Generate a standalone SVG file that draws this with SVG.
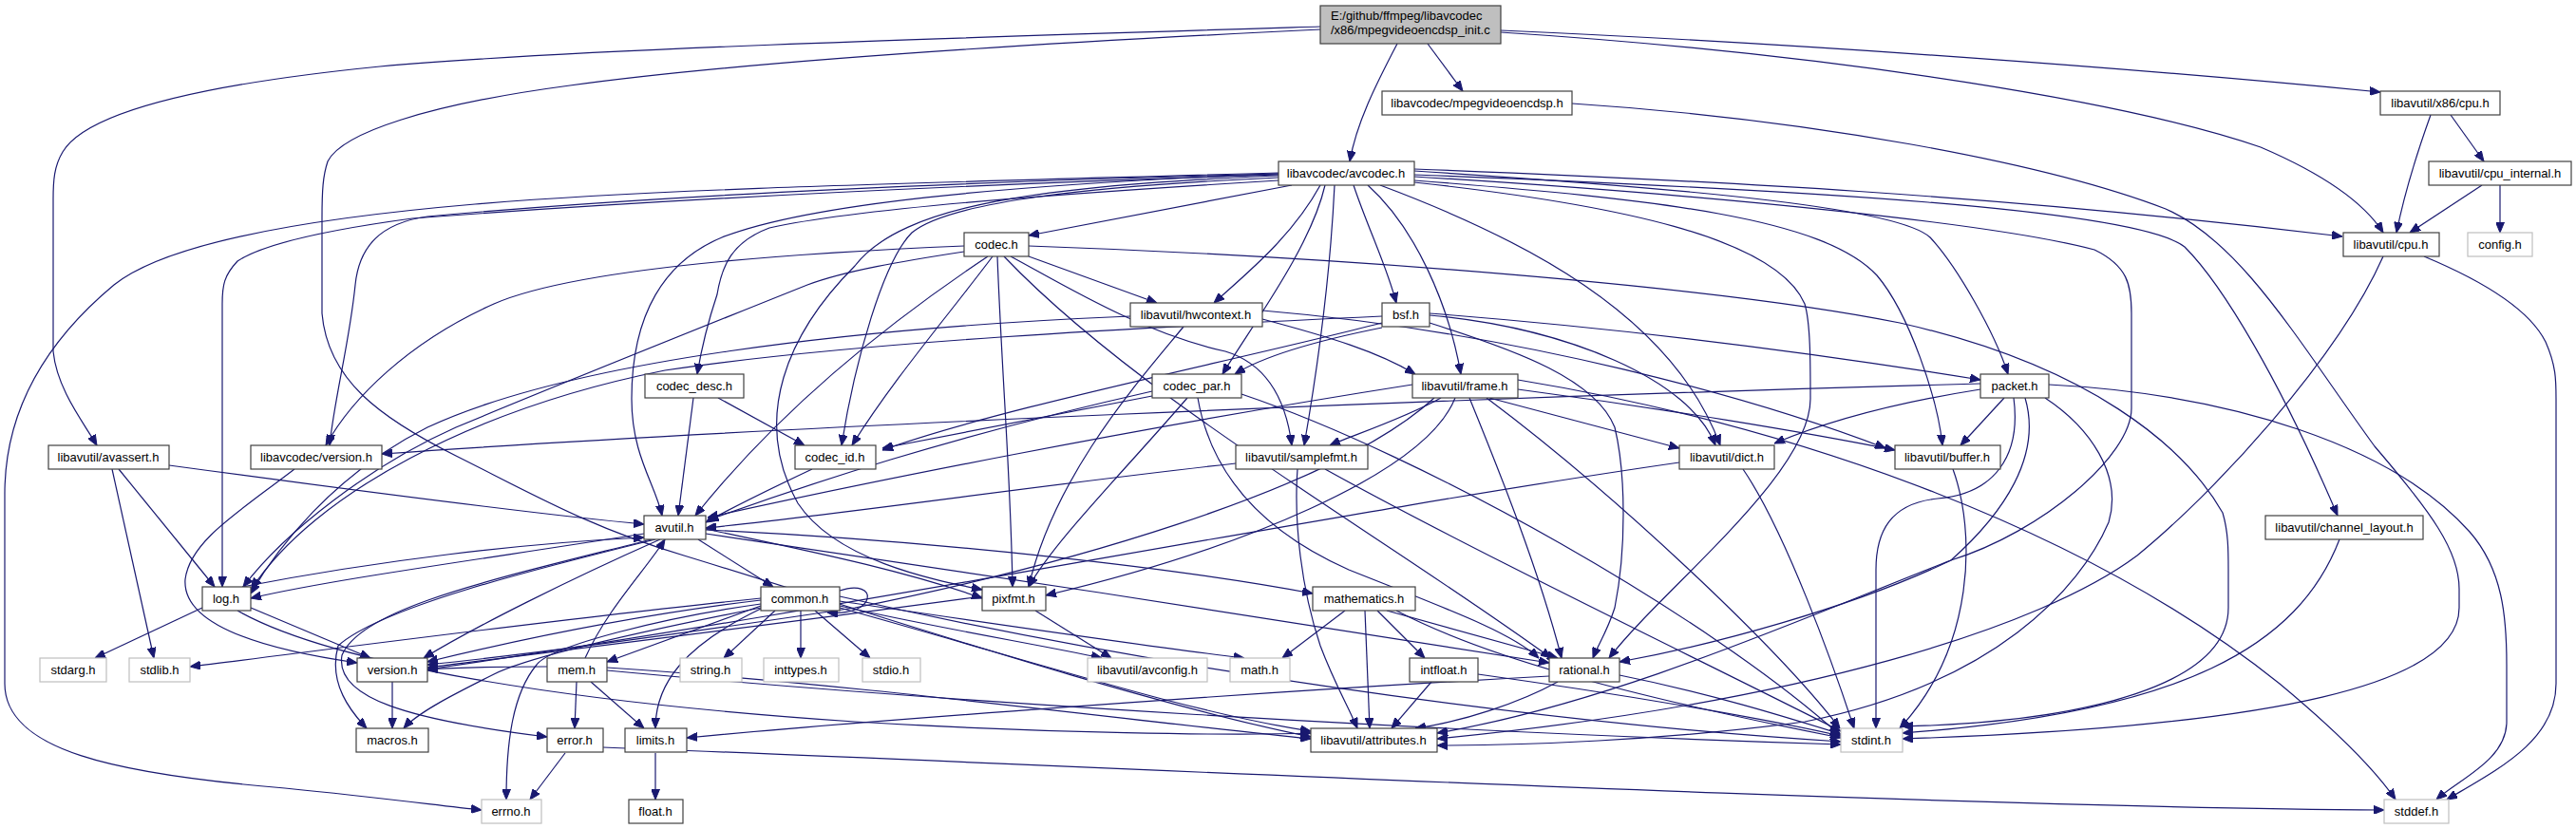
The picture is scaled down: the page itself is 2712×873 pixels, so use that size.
<svg xmlns="http://www.w3.org/2000/svg" width="2712" height="873" viewBox="0 0 2712 873">
<style>
.n rect{fill:#fff;stroke:#404040;stroke-width:1.2}
.s rect{fill:#fff;stroke:#bfbfbf;stroke-width:1.2}
.m rect{fill:#bfbfbf;stroke:#404040;stroke-width:1.2}
text{font-family:"Liberation Sans",Arial,sans-serif;font-size:13px;fill:#000;text-anchor:middle}
.e path{fill:none;stroke:#191970;stroke-width:1.2;marker-end:url(#a)}
</style>
<defs>
<marker id="a" markerUnits="userSpaceOnUse" markerWidth="11" markerHeight="9" refX="11" refY="4.5" orient="auto"><path d="M0,0 L11,4.5 L0,9 z" fill="#191970" stroke="#191970" stroke-width="1"/></marker>
</defs>
<rect width="2712" height="873" fill="#fff"/>
<g class="e" id="edges">
<path d="M1503,46 L1540,96"/>
<path d="M1471,46 C1448,90 1428,130 1421,170"/>
<path d="M1580,32 C1900,46 2250,72 2506,97"/>
<path d="M1580,34 C1950,58 2250,110 2380,155 C2450,185 2490,215 2509,245"/>
<path d="M1390,28 C1000,40 600,52 400,70 C200,90 90,120 66,160 C57,175 56,190 56,210 L56,370 C60,410 88,445 102,469"/>
<path d="M1390,31 C1100,45 780,65 600,90 C450,110 360,140 345,170 C340,185 339,200 339,230 L339,330 C345,400 400,440 480,480 C560,520 620,555 720,585 C900,640 1200,740 1380,776"/>
<path d="M1655,109 C1900,125 2150,170 2280,220 C2360,255 2420,360 2500,470 C2560,540 2589,580 2589,620 L2589,640 C2589,720 2400,765 2003,778"/>
<path d="M2559,121 C2545,160 2530,210 2523,245"/>
<path d="M2580,121 L2615,170"/>
<path d="M2613,195 L2537,245"/>
<path d="M2632,195 L2632,245"/>
<path d="M2552,270 C2600,290 2660,320 2680,360 C2691,385 2691,400 2691,420 L2691,720 C2691,780 2630,810 2576,842"/>
<path d="M2509,270 C2460,380 2330,520 2250,585 C2150,660 1900,740 1513,778"/>
<path d="M1346,182 C1000,192 700,198 500,215 C300,232 170,260 120,300 C60,350 5,420 5,520 L5,720 C5,790 120,815 300,830 C400,840 460,848 507,853"/>
<path d="M1346,184 C1000,195 700,210 434,230 C360,240 280,255 250,275 C236,290 234,300 234,320 L234,618"/>
<path d="M1346,183 C1000,192 700,205 450,228 C400,235 378,260 374,300 C368,360 352,420 347,469"/>
<path d="M1360,195 L1083,248"/>
<path d="M1346,190 C1100,205 900,220 810,240 C770,255 760,280 755,310 C745,340 738,370 734,394"/>
<path d="M1346,187 C1150,196 1000,212 960,245 C930,275 900,380 886,469"/>
<path d="M1395,195 C1380,260 1320,340 1287,394"/>
<path d="M1346,183 C1050,195 850,215 760,250 C700,275 665,330 665,420 C665,480 690,510 697,543"/>
<path d="M1346,185 C1100,195 950,215 900,280 C830,350 790,440 840,530 C880,590 980,610 1034,621"/>
<path d="M1390,195 C1360,250 1310,290 1278,319"/>
<path d="M1405,195 C1400,300 1385,400 1373,469"/>
<path d="M1425,195 C1440,240 1460,280 1470,319"/>
<path d="M1440,195 C1490,240 1525,320 1538,394"/>
<path d="M1453,195 C1600,250 1760,330 1811,469"/>
<path d="M1489,192 C1700,215 1870,250 1900,320 C1906,340 1906,380 1906,420 C1906,500 1750,620 1694,693"/>
<path d="M1489,190 C1750,210 1920,230 1976,290 C2010,330 2040,420 2045,469"/>
<path d="M1489,178 C1800,190 2100,205 2466,249"/>
<path d="M1489,180 C1800,200 2000,220 2032,250 C2060,280 2100,350 2114,394"/>
<path d="M1489,184 C1900,200 2250,220 2300,260 C2340,300 2400,400 2461,543"/>
<path d="M1489,186 C1800,205 2100,235 2205,263 C2240,280 2244,300 2244,330 L2244,430 C2244,480 2150,560 2054,590 C1900,650 1700,740 1513,772"/>
<path d="M1015,259 C800,268 600,285 520,320 C430,360 370,420 343,469"/>
<path d="M1015,265 C950,275 890,285 850,300 C750,340 600,400 480,450 C390,490 300,560 256,618"/>
<path d="M1040,270 C950,330 830,420 732,543"/>
<path d="M1045,270 C1000,330 940,400 897,469"/>
<path d="M1050,270 C1055,400 1064,500 1066,618"/>
<path d="M1057,270 C1200,420 1450,560 1633,693"/>
<path d="M1064,270 C1120,300 1200,350 1290,370 C1340,385 1355,430 1360,469"/>
<path d="M1083,270 L1218,319"/>
<path d="M1083,259 C1400,270 1800,300 2000,340 C2200,385 2300,470 2340,540 C2346,560 2346,580 2346,600 L2346,640 C2346,720 2200,760 2003,765"/>
<path d="M1190,333 C900,345 600,380 450,450 C350,500 290,580 264,625"/>
<path d="M1246,344 C1200,400 1110,500 1083,618"/>
<path d="M1329,336 C1400,355 1450,370 1490,394"/>
<path d="M1329,327 C1600,350 1850,420 1985,472"/>
<path d="M1455,345 C1380,360 1330,375 1300,394"/>
<path d="M1455,340 C1300,380 1050,430 929,474"/>
<path d="M1455,333 C1200,345 900,360 700,390 C500,430 330,520 265,620"/>
<path d="M1505,340 C1600,370 1680,400 1700,450 C1712,500 1712,580 1700,640 C1692,665 1682,680 1677,693"/>
<path d="M1505,332 C1650,345 1780,400 1806,469"/>
<path d="M1505,330 C1700,345 1900,370 2085,400"/>
<path d="M730,419 L714,543"/>
<path d="M756,419 L847,469"/>
<path d="M1213,417 L929,472"/>
<path d="M1213,412 C1000,460 850,510 745,548"/>
<path d="M1250,419 C1180,500 1110,570 1083,618"/>
<path d="M1261,419 C1275,500 1330,560 1420,600 C1520,640 1590,665 1620,693"/>
<path d="M1307,415 C1500,480 1800,650 1938,775"/>
<path d="M1487,405 C1200,450 900,510 745,545"/>
<path d="M1517,419 C1480,440 1420,460 1400,469"/>
<path d="M1532,419 C1500,500 1300,580 1101,627"/>
<path d="M1568,419 L1768,472"/>
<path d="M1598,410 C1750,430 1900,455 1995,474"/>
<path d="M1547,419 C1580,500 1620,600 1644,693"/>
<path d="M1565,419 C1700,520 1870,680 1937,767"/>
<path d="M1510,419 C1400,520 1100,600 900,640 C700,670 550,690 450,700"/>
<path d="M1598,400 C1900,450 2200,560 2400,720 C2460,770 2500,810 2522,842"/>
<path d="M2085,404 C1500,420 800,450 402,478"/>
<path d="M2085,410 C1990,425 1920,445 1868,467"/>
<path d="M2110,419 L2064,469"/>
<path d="M2120,419 C2128,480 2100,520 2040,525 C1990,530 1975,560 1975,600 C1975,650 1975,720 1975,767"/>
<path d="M2132,419 C2150,480 2110,540 2054,590 C1950,640 1800,680 1705,697"/>
<path d="M2153,419 C2200,450 2235,500 2220,550 C2190,620 2100,720 1900,760 C1750,780 1600,785 1513,785"/>
<path d="M2157,405 C2350,415 2520,470 2600,560 C2635,600 2639,650 2639,700 L2639,760 C2639,800 2590,820 2565,842"/>
<path d="M178,490 C400,520 600,545 678,552"/>
<path d="M125,494 L226,618"/>
<path d="M118,494 L162,693"/>
<path d="M310,494 C250,540 200,570 195,610 C192,650 250,680 376,698"/>
<path d="M855,494 C800,520 770,535 743,550"/>
<path d="M1301,488 C1100,510 900,540 743,556"/>
<path d="M1366,494 C1362,550 1370,620 1390,680 C1405,720 1420,745 1429,767"/>
<path d="M1395,494 C1550,580 1800,700 1938,770"/>
<path d="M1768,487 C1400,540 900,640 450,705"/>
<path d="M1835,494 C1880,560 1930,700 1952,767"/>
<path d="M2056,494 C2080,560 2080,680 2000,767"/>
<path d="M2463,568 C2420,680 2300,750 2003,772"/>
<path d="M735,568 L814,618"/>
<path d="M678,562 C500,590 350,610 264,630"/>
<path d="M695,568 C600,610 500,660 446,693"/>
<path d="M690,568 C560,600 400,640 356,680 C345,720 370,750 386,767"/>
<path d="M686,568 C520,610 380,640 360,690 C352,735 430,758 576,776"/>
<path d="M743,562 C1000,600 1400,660 1631,698"/>
<path d="M743,558 C1000,570 1250,600 1382,625"/>
<path d="M743,557 C850,580 950,600 1034,630"/>
<path d="M213,640 L100,693"/>
<path d="M264,640 L390,693"/>
<path d="M250,643 C350,700 600,740 900,760 C1100,772 1300,775 1380,772"/>
<path d="M255,618 C400,590 550,572 678,566"/>
<path d="M816,643 L762,693"/>
<path d="M843,643 L843,693"/>
<path d="M858,643 L916,693"/>
<path d="M884,638 C980,660 1100,680 1160,693"/>
<path d="M884,633 C1000,650 1200,680 1310,693"/>
<path d="M884,628 C1200,700 1600,760 1938,781"/>
<path d="M884,640 C1100,700 1250,750 1380,770"/>
<path d="M801,636 C700,650 580,680 565,700 C540,730 533,780 533,842"/>
<path d="M801,641 C720,680 690,720 690,767"/>
<path d="M801,630 C600,650 300,690 200,702"/>
<path d="M801,640 C700,660 560,690 520,710 C480,730 440,750 425,767"/>
<path d="M801,632 C650,650 520,680 450,697"/>
<path d="M801,638 L639,697"/>
<path d="M884,622 C925,608 925,650 871,645"/>
<path d="M1090,643 L1170,693"/>
<path d="M1034,628 C800,660 550,690 450,703"/>
<path d="M1416,643 L1350,693"/>
<path d="M1450,643 L1500,693"/>
<path d="M1437,643 L1442,767"/>
<path d="M1460,643 L1640,693"/>
<path d="M1470,643 C1560,690 1700,730 1938,777"/>
<path d="M607,718 L605,767"/>
<path d="M622,718 L678,767"/>
<path d="M639,703 C900,720 1200,760 1380,778"/>
<path d="M639,706 C1000,740 1500,770 1938,784"/>
<path d="M616,693 C640,640 680,600 700,568"/>
<path d="M576,702 C530,702 480,703 450,705"/>
<path d="M413,718 L413,767"/>
<path d="M1507,718 L1465,767"/>
<path d="M1556,710 C1700,730 1850,755 1938,775"/>
<path d="M1640,718 C1600,740 1540,760 1490,767"/>
<path d="M1705,711 C1800,730 1880,755 1938,773"/>
<path d="M1631,712 C1300,730 900,760 723,777"/>
<path d="M595,793 L558,842"/>
<path d="M635,787 C1000,800 2000,850 2510,853"/>
<path d="M690,793 L690,842"/>
</g>
<g id="n_main" class="m"><rect x="1390" y="6" width="190" height="40"/><text x="1401" y="21" style="text-anchor:start">E:/github/ffmpeg/libavcodec</text><text x="1401" y="36" style="text-anchor:start">/x86/mpegvideoencdsp_init.c</text></g>
<g id="n_mvedsp" class="n"><rect x="1455" y="96" width="200" height="25"/><text x="1555" y="113">libavcodec/mpegvideoencdsp.h</text></g>
<g id="n_x86cpu" class="n"><rect x="2506" y="96" width="126" height="25"/><text x="2569" y="113">libavutil/x86/cpu.h</text></g>
<g id="n_avcodec" class="n"><rect x="1346" y="170" width="143" height="25"/><text x="1417" y="187">libavcodec/avcodec.h</text></g>
<g id="n_cpuint" class="n"><rect x="2557" y="170" width="150" height="25"/><text x="2632" y="187">libavutil/cpu_internal.h</text></g>
<g id="n_codec" class="n"><rect x="1015" y="245" width="68" height="25"/><text x="1049" y="262">codec.h</text></g>
<g id="n_cpu" class="n"><rect x="2467" y="245" width="101" height="25"/><text x="2517" y="262">libavutil/cpu.h</text></g>
<g id="n_config" class="s"><rect x="2598" y="245" width="68" height="25"/><text x="2632" y="262">config.h</text></g>
<g id="n_hwctx" class="n"><rect x="1190" y="319" width="139" height="25"/><text x="1259" y="336">libavutil/hwcontext.h</text></g>
<g id="n_bsf" class="n"><rect x="1455" y="319" width="50" height="25"/><text x="1480" y="336">bsf.h</text></g>
<g id="n_codecdesc" class="n"><rect x="679" y="394" width="104" height="25"/><text x="731" y="411">codec_desc.h</text></g>
<g id="n_codecpar" class="n"><rect x="1213" y="394" width="94" height="25"/><text x="1260" y="411">codec_par.h</text></g>
<g id="n_frame" class="n"><rect x="1487" y="394" width="111" height="25"/><text x="1542" y="411">libavutil/frame.h</text></g>
<g id="n_packet" class="n"><rect x="2085" y="394" width="72" height="25"/><text x="2121" y="411">packet.h</text></g>
<g id="n_avassert" class="n"><rect x="51" y="469" width="127" height="25"/><text x="114" y="486">libavutil/avassert.h</text></g>
<g id="n_lavcver" class="n"><rect x="264" y="469" width="138" height="25"/><text x="333" y="486">libavcodec/version.h</text></g>
<g id="n_codecid" class="n"><rect x="837" y="469" width="85" height="25"/><text x="879" y="486">codec_id.h</text></g>
<g id="n_samplefmt" class="n"><rect x="1301" y="469" width="139" height="25"/><text x="1370" y="486">libavutil/samplefmt.h</text></g>
<g id="n_dict" class="n"><rect x="1768" y="469" width="100" height="25"/><text x="1818" y="486">libavutil/dict.h</text></g>
<g id="n_buffer" class="n"><rect x="1995" y="469" width="111" height="25"/><text x="2050" y="486">libavutil/buffer.h</text></g>
<g id="n_avutil" class="n"><rect x="678" y="543" width="65" height="25"/><text x="710" y="560">avutil.h</text></g>
<g id="n_chlayout" class="n"><rect x="2385" y="543" width="166" height="25"/><text x="2468" y="560">libavutil/channel_layout.h</text></g>
<g id="n_log" class="n"><rect x="213" y="618" width="51" height="25"/><text x="238" y="635">log.h</text></g>
<g id="n_common" class="n"><rect x="801" y="618" width="83" height="25"/><text x="842" y="635">common.h</text></g>
<g id="n_pixfmt" class="n"><rect x="1034" y="618" width="67" height="25"/><text x="1067" y="635">pixfmt.h</text></g>
<g id="n_mathematics" class="n"><rect x="1382" y="618" width="108" height="25"/><text x="1436" y="635">mathematics.h</text></g>
<g id="n_stdarg" class="s"><rect x="42" y="693" width="70" height="25"/><text x="77" y="710">stdarg.h</text></g>
<g id="n_stdlib" class="s"><rect x="136" y="693" width="64" height="25"/><text x="168" y="710">stdlib.h</text></g>
<g id="n_version" class="n"><rect x="376" y="693" width="74" height="25"/><text x="413" y="710">version.h</text></g>
<g id="n_mem" class="n"><rect x="576" y="693" width="63" height="25"/><text x="607" y="710">mem.h</text></g>
<g id="n_string" class="s"><rect x="716" y="693" width="65" height="25"/><text x="748" y="710">string.h</text></g>
<g id="n_inttypes" class="s"><rect x="804" y="693" width="79" height="25"/><text x="843" y="710">inttypes.h</text></g>
<g id="n_stdio" class="s"><rect x="908" y="693" width="61" height="25"/><text x="938" y="710">stdio.h</text></g>
<g id="n_avconfig" class="s"><rect x="1145" y="693" width="126" height="25"/><text x="1208" y="710">libavutil/avconfig.h</text></g>
<g id="n_math" class="s"><rect x="1295" y="693" width="63" height="25"/><text x="1326" y="710">math.h</text></g>
<g id="n_intfloat" class="n"><rect x="1484" y="693" width="72" height="25"/><text x="1520" y="710">intfloat.h</text></g>
<g id="n_rational" class="n"><rect x="1631" y="693" width="74" height="25"/><text x="1668" y="710">rational.h</text></g>
<g id="n_macros" class="n"><rect x="375" y="767" width="76" height="25"/><text x="413" y="784">macros.h</text></g>
<g id="n_error" class="n"><rect x="576" y="767" width="59" height="25"/><text x="605" y="784">error.h</text></g>
<g id="n_limits" class="n"><rect x="658" y="767" width="65" height="25"/><text x="690" y="784">limits.h</text></g>
<g id="n_attributes" class="n"><rect x="1380" y="767" width="133" height="25"/><text x="1446" y="784">libavutil/attributes.h</text></g>
<g id="n_stdint" class="s"><rect x="1938" y="767" width="65" height="25"/><text x="1970" y="784">stdint.h</text></g>
<g id="n_errno" class="s"><rect x="507" y="842" width="63" height="25"/><text x="538" y="859">errno.h</text></g>
<g id="n_float" class="n"><rect x="662" y="842" width="57" height="25"/><text x="690" y="859">float.h</text></g>
<g id="n_stddef" class="s"><rect x="2510" y="842" width="68" height="25"/><text x="2544" y="859">stddef.h</text></g>
</svg>
